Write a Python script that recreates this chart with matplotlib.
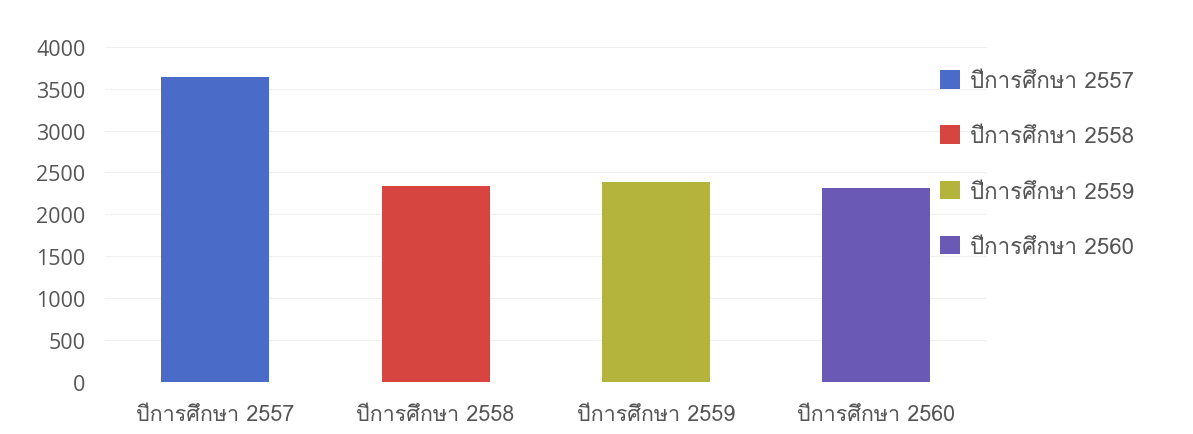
import matplotlib
matplotlib.use("Agg")
import matplotlib.pyplot as plt
from matplotlib import font_manager
from matplotlib.ft2font import FT2Font
import numpy as np

# data
categories = ["ปีการศึกษา 2557", "ปีการศึกษา 2558", "ปีการศึกษา 2559", "ปีการศึกษา 2560"]
values = [3640, 2340, 2390, 2320]
colors = ["#4a6cc8", "#d6453f", "#b4b43c", "#6a5ab6"]
yticks = [0, 500, 1000, 1500, 2000, 2500, 3000, 3500, 4000]


def find_thai_font():
    # look for any installed font that has Thai glyphs
    for f in font_manager.fontManager.ttflist:
        try:
            if 0x0E1B in FT2Font(f.fname).get_charmap():
                return f.name
        except Exception:
            pass
    return None


thai = find_thai_font()
fams = ([thai] if thai else []) + ["DejaVu Sans"]

fig = plt.figure(figsize=(11.93, 4.35), dpi=100)
ax = fig.add_axes([0.088, 0.12, 0.739, 0.77])

x = np.arange(len(categories))
bars = ax.bar(x, values, width=0.49, color=colors, label=categories, zorder=3)

ax.set_ylim(0, 4000)
ax.set_xlim(-0.5, len(categories) - 0.5)
ax.set_yticks(yticks)
ax.set_yticklabels([str(v) for v in yticks], fontsize=15.5, color="#555555",
                   family=["Open Sans", "DejaVu Sans"])
ax.set_xticks(x)
ax.set_xticklabels(categories, fontsize=15.5, color="#555555", family=fams)
ax.tick_params(axis="y", length=0, pad=14)
ax.tick_params(axis="x", length=0, pad=16)
ax.grid(axis="y", color="#f0f0f0", linewidth=0.8, zorder=0)
for s in ax.spines.values():
    s.set_visible(False)

leg = ax.legend(handles=list(bars), labels=categories, loc="upper left",
                bbox_to_anchor=(0.925, 0.99), frameon=False, handlelength=0.9,
                handleheight=0.9, labelspacing=1.5, handletextpad=0.45,
                prop={"family": fams, "size": 16})
for t in leg.get_texts():
    t.set_color("#555555")

fig.savefig("out.png", dpi=100)
